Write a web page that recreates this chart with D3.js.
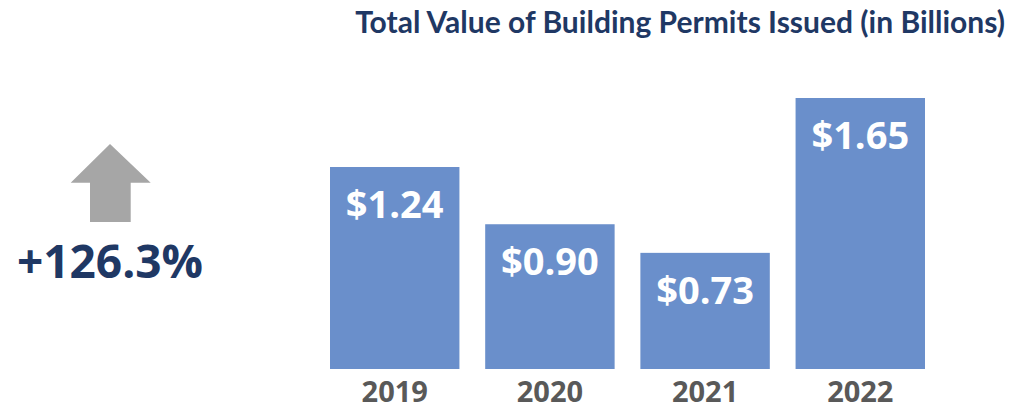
<!DOCTYPE html>
<html>
<head>
<meta charset="utf-8">
<script src="https://cdn.jsdelivr.net/npm/d3@7"></script>
<style>
  body { margin: 0; background: #fff; }
  svg { display: block; }
</style>
</head>
<body>
<svg width="1013" height="409"></svg>
<script>
// data
var years = ["2019", "2020", "2021", "2022"];
var values = [1.24, 0.90, 0.73, 1.65];
var valueLabels = ["$1.24", "$0.90", "$0.73", "$1.65"];
var titleText = "Total Value of Building Permits Issued (in Billions)";
var changeText = "+126.3%";

var svg = d3.select("svg");
var navy = "#1f3864";
var barColor = "#6a8fcb";

/* x-as: band per jaar */
var x = d3.scaleBand()
    .domain(years)
    .range([330, 925])
    .paddingInner(0.166)
    .paddingOuter(0);

/* y-as */
var y = d3.scaleLinear()
    .domain([0.04, 1.65])
    .range([369, 98]);

var rows = years.map(function(d, i) { return {year: d, value: values[i], label: valueLabels[i]}; });

/* titel, op breedte gebracht */
var title = svg.append("text")
    .attr("x", 1005)
    .attr("y", 33)
    .attr("text-anchor", "end")
    .attr("font-family", "Lato, 'Open Sans', sans-serif")
    .attr("font-weight", "bold")
    .attr("font-size", 30)
    .attr("fill", navy)
    .text(titleText);
var tw = title.node().getComputedTextLength();
title.attr("font-size", 30 * 650 / tw);

/* bars */
svg.append("g")
  .selectAll("rect")
  .data(rows)
  .enter().append("rect")
    .attr("x", function(d) { return x(d.year); })
    .attr("y", function(d) { return y(d.value); })
    .attr("width", x.bandwidth())
    .attr("height", function(d) { return y.range()[0] - y(d.value); })
    .attr("fill", barColor);

/* waarden in de bars */
svg.append("g")
  .selectAll("text")
  .data(rows)
  .enter().append("text")
    .attr("x", function(d) { return x(d.year) + x.bandwidth() / 2; })
    .attr("y", function(d) { return y(d.value) + 51; })
    .attr("text-anchor", "middle")
    .attr("font-family", "'Open Sans', sans-serif")
    .attr("font-weight", "bold")
    .attr("font-size", 38)
    .attr("fill", "#fff")
    .text(function(d) { return d.label; });

/* jaartallen */
var axis = svg.append("g")
    .attr("transform", "translate(0," + y.range()[0] + ")")
    .call(d3.axisBottom(x).tickSize(0).tickPadding(0));
axis.select(".domain").remove();
axis.selectAll("text")
    .attr("y", 33)
    .attr("dy", null)
    .attr("font-family", "'Open Sans', sans-serif")
    .attr("font-weight", "bold")
    .attr("font-size", 29)
    .attr("fill", "#595959");

/* pijl omhoog */
svg.append("path")
    .attr("d", "M110,144 L150.7,182.7 L130.7,182.7 L130.7,222 L90,222 L90,182.7 L70.7,182.7 Z")
    .attr("fill", "#a6a6a6");

/* procentuele groei */
svg.append("text")
    .attr("x", 110)
    .attr("y", 278)
    .attr("text-anchor", "middle")
    .attr("font-family", "'Open Sans', sans-serif")
    .attr("font-weight", "bold")
    .attr("font-size", 46)
    .attr("fill", navy)
    .text(changeText);
</script>
</body>
</html>
